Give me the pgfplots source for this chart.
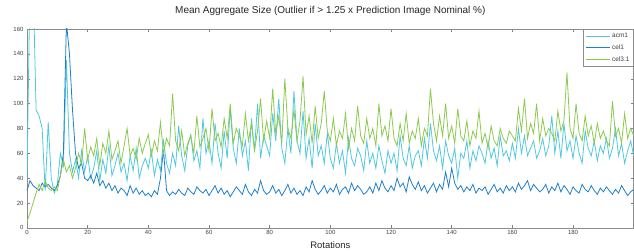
\documentclass[border=0pt]{standalone}
\usepackage{pgfplots}
\pgfplotsset{compat=1.18}
\usepackage{pgfplotstable}
\usepackage{fontspec}
\setmainfont{Liberation Sans}
\definecolor{cA}{RGB}{80,200,222}
\definecolor{cB}{RGB}{30,128,200}
\definecolor{cC}{RGB}{140,202,78}

\pgfplotstableread[header=false,row sep=\\]{
40\\200\\200\\95\\90\\80\\30\\85\\40\\28\\
35\\60\\50\\135\\60\\45\\55\\40\\62\\45\\
58\\40\\48\\62\\38\\55\\44\\66\\42\\50\\
60\\45\\52\\38\\58\\46\\64\\40\\50\\56\\
48\\62\\42\\55\\46\\70\\52\\44\\60\\50\\
82\\58\\46\\66\\75\\54\\62\\48\\88\\60\\
70\\52\\84\\60\\48\\78\\56\\96\\64\\52\\
80\\58\\70\\46\\88\\62\\100\\56\\74\\66\\
58\\92\\70\\104\\64\\52\\80\\60\\110\\70\\
60\\94\\56\\72\\48\\84\\58\\66\\52\\76\\
56\\48\\68\\52\\62\\44\\72\\56\\50\\64\\
58\\46\\70\\52\\60\\48\\66\\54\\44\\62\\
52\\60\\46\\74\\56\\50\\66\\48\\58\\62\\
50\\72\\56\\84\\62\\54\\66\\48\\70\\58\\
52\\64\\40\\60\\56\\70\\48\\62\\54\\66\\
60\\52\\70\\56\\64\\50\\74\\58\\62\\54\\
68\\56\\80\\60\\74\\58\\64\\70\\56\\62\\
72\\58\\66\\90\\60\\78\\56\\84\\62\\70\\
56\\74\\60\\52\\78\\64\\58\\70\\54\\66\\
60\\72\\56\\64\\80\\58\\68\\52\\62\\70\\
58\\
}\dataA

\pgfplotstableread[header=false,row sep=\\]{
30\\38\\34\\32\\30\\36\\33\\35\\32\\30\\
34\\42\\60\\165\\140\\95\\60\\48\\52\\40\\
38\\42\\36\\44\\34\\38\\32\\36\\30\\34\\
28\\32\\30\\26\\34\\28\\32\\27\\30\\26\\
28\\25\\30\\27\\40\\63\\30\\26\\29\\27\\
31\\28\\26\\32\\29\\27\\33\\30\\28\\31\\
26\\30\\34\\28\\32\\27\\30\\25\\29\\33\\
30\\27\\35\\29\\26\\31\\28\\38\\30\\27\\
29\\34\\28\\31\\26\\30\\35\\28\\32\\27\\
30\\26\\33\\29\\38\\31\\27\\30\\34\\28\\
32\\29\\35\\27\\31\\33\\28\\36\\30\\34\\
31\\27\\29\\33\\28\\36\\30\\38\\32\\29\\
34\\30\\40\\33\\36\\29\\41\\35\\31\\37\\
30\\34\\28\\32\\36\\29\\35\\31\\45\\33\\
48\\36\\31\\34\\29\\33\\30\\35\\28\\32\\
30\\33\\27\\31\\35\\29\\32\\28\\34\\30\\
33\\29\\36\\31\\34\\38\\30\\35\\32\\29\\
31\\35\\28\\33\\30\\36\\29\\34\\31\\27\\
33\\30\\28\\35\\31\\29\\34\\30\\27\\32\\
29\\33\\30\\27\\31\\28\\34\\30\\26\\29\\
31\\
}\dataB

\pgfplotstableread[header=false,row sep=\\]{
5\\12\\20\\28\\35\\30\\38\\32\\30\\33\\
30\\42\\55\\45\\50\\40\\48\\60\\52\\80\\
55\\65\\58\\72\\50\\68\\60\\78\\55\\62\\
70\\52\\66\\80\\58\\64\\55\\72\\60\\68\\
75\\58\\70\\62\\85\\60\\72\\66\\108\\70\\
62\\78\\58\\68\\74\\60\\90\\65\\72\\80\\
62\\96\\70\\76\\65\\88\\72\\100\\68\\80\\
74\\66\\92\\70\\84\\62\\78\\104\\70\\86\\
72\\112\\76\\90\\68\\120\\80\\72\\95\\70\\
86\\122\\75\\90\\68\\98\\72\\84\\110\\78\\
70\\88\\66\\78\\72\\92\\64\\80\\70\\98\\
74\\68\\88\\72\\80\\66\\100\\74\\82\\70\\
96\\72\\66\\84\\70\\92\\68\\78\\72\\88\\
66\\80\\74\\112\\84\\70\\90\\74\\100\\72\\
82\\68\\96\\74\\70\\86\\66\\78\\72\\94\\
68\\76\\64\\82\\70\\66\\80\\72\\68\\78\\
74\\70\\96\\78\\104\\72\\84\\76\\100\\70\\
88\\74\\80\\76\\70\\94\\78\\86\\125\\80\\
72\\100\\76\\70\\90\\74\\82\\68\\84\\72\\
78\\70\\66\\102\\74\\80\\68\\92\\72\\80\\
74\\
}\dataC

\begin{document}
\begin{tikzpicture}
\begin{axis}[
  at={(0,0)}, anchor=origin,
  width=607pt, height=199pt, scale only axis,
  xmin=0, xmax=200, ymin=0, ymax=160,
  xtick={0,20,...,180}, ytick={0,20,...,160},
  tick align=inside, major tick length=3pt,
  tick label style={font=\fontsize{6}{7}\selectfont, text=black!75},
  xticklabel style={yshift=1pt},
  /pgf/number format/assume math mode=true,
  axis line style={black!45, line width=0.6pt},
  every tick/.style={black!50},
  title={Mean Aggregate Size (Outlier if > 1.25 x Prediction Image Nominal \%)},
  title style={font=\fontsize{10}{12}\selectfont, at={(axis description cs:0.5,1)}, anchor=center, yshift=12pt, text=black!85},
  xlabel={Rotations},
  xlabel style={font=\fontsize{9.5}{11}\selectfont, at={(axis description cs:0.5,0)}, anchor=center, yshift=-17pt, text=black!85},
  legend style={at={(1,1)}, anchor=north east, font=\fontsize{6.5}{7.5}\selectfont,
    draw=black!45, inner sep=2pt, row sep=1.5pt, text=black!75},
  legend image code/.code={\draw[#1] (0cm,0cm) -- (0.85cm,0cm);},
  legend cell align=left,
  every axis plot/.append style={line width=0.8pt},
]
\addplot[cA] table[x expr=\coordindex, y index=0] {\dataA};
\addplot[cB] table[x expr=\coordindex, y index=0] {\dataB};
\addplot[cC] table[x expr=\coordindex, y index=0] {\dataC};
\legend{acm1,cel1,cel3.1}
\end{axis}
\path[use as bounding box] (-27pt,-21pt) rectangle (607pt,228pt);
\end{tikzpicture}
\end{document}
